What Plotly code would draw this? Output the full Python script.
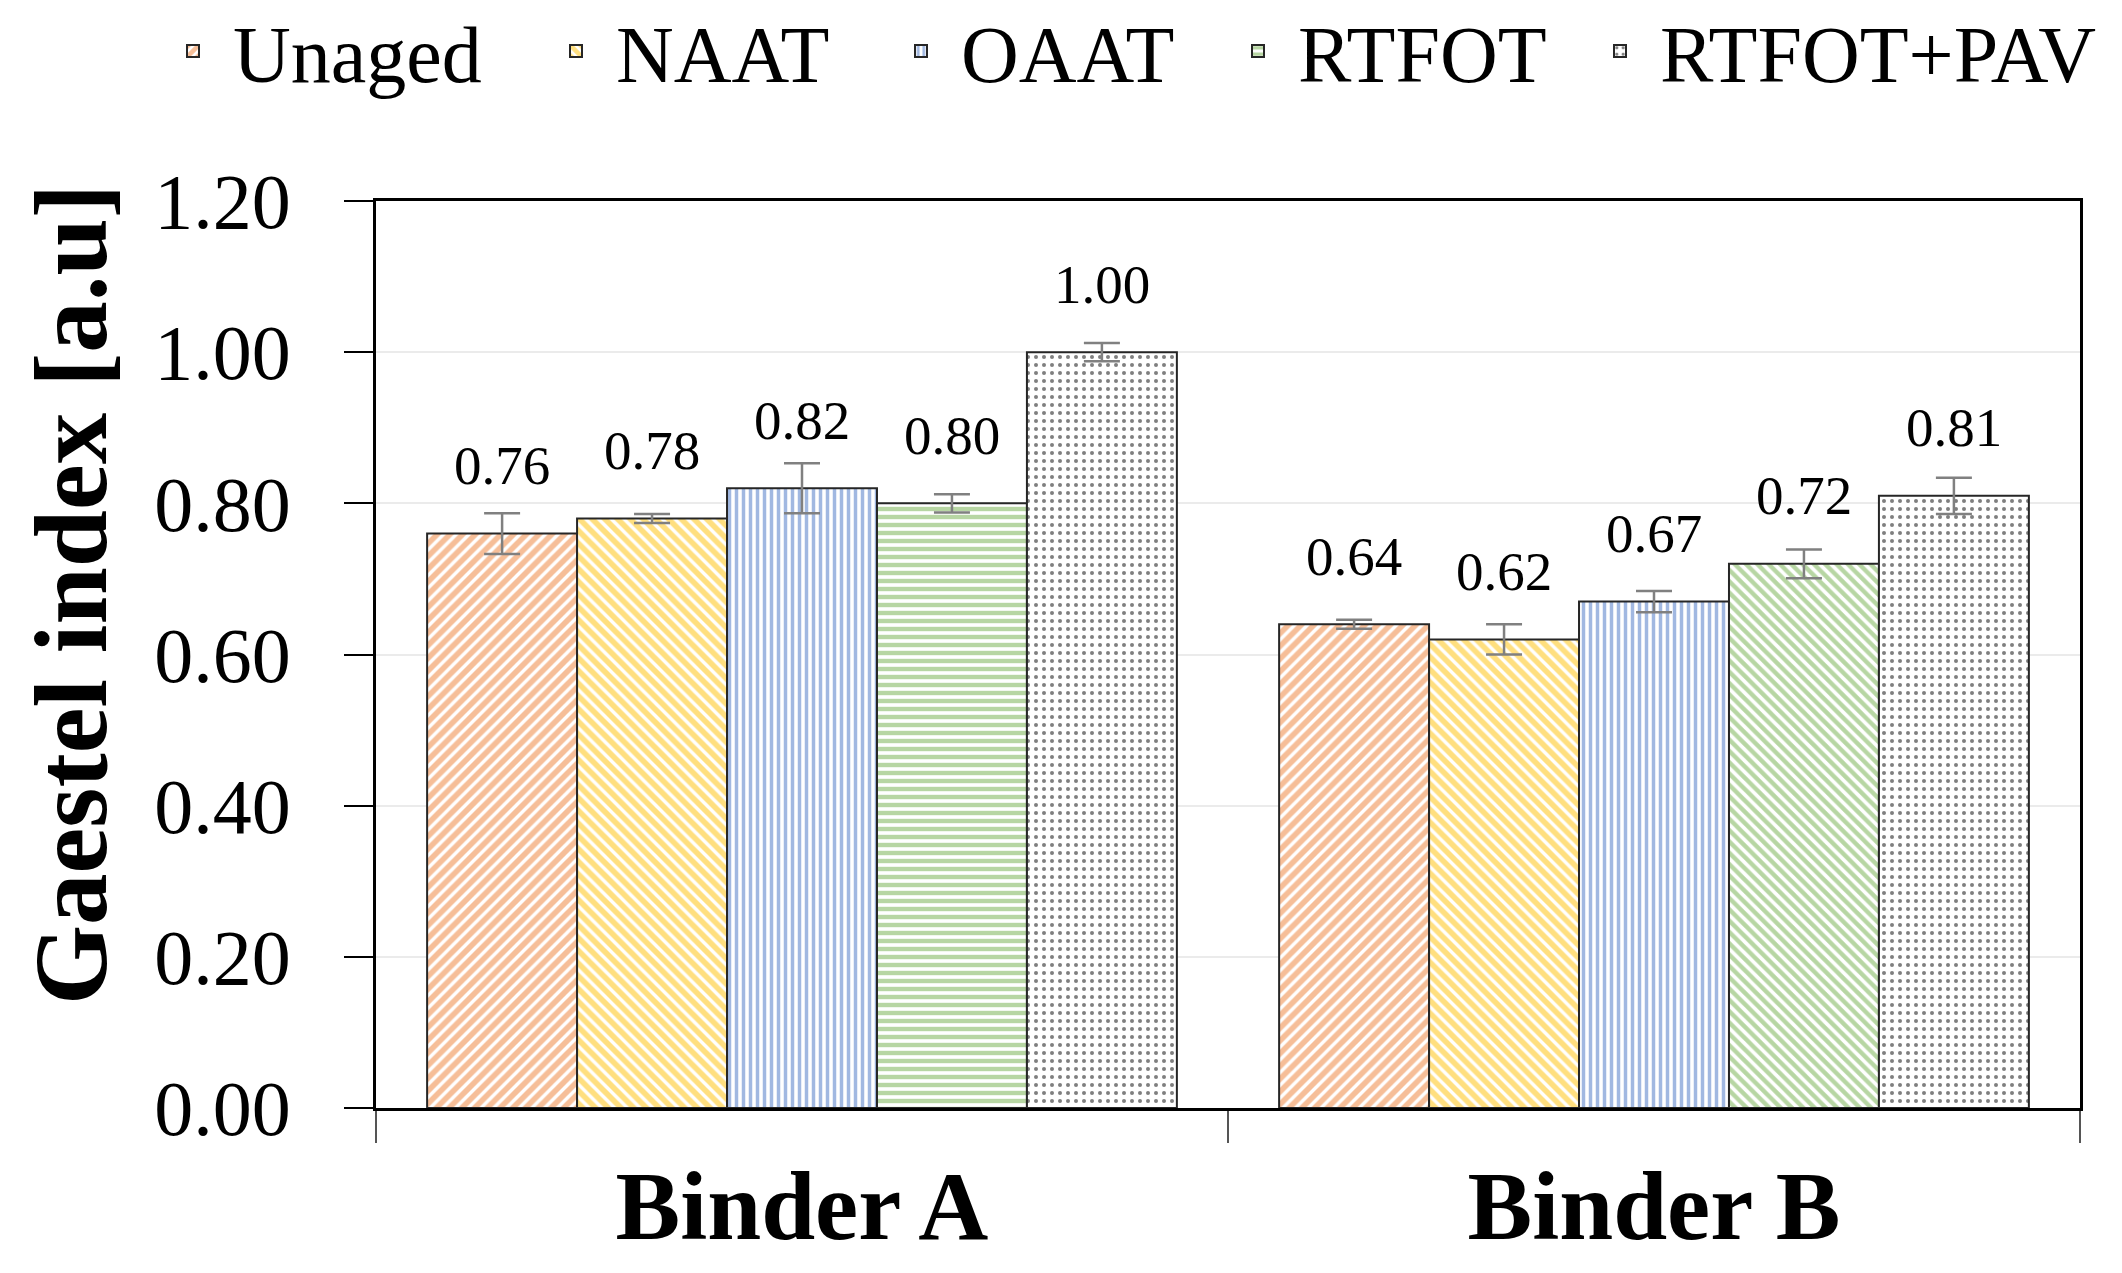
import plotly.graph_objects as go

categories = ["Binder A", "Binder B"]
series = ["Unaged", "NAAT", "OAAT", "RTFOT", "RTFOT+PAV"]
unaged = [0.76, 0.64]
naat = [0.78, 0.62]
oaat = [0.82, 0.67]
rtfot = [0.80, 0.72]
rtfot_pav = [1.00, 0.81]
err_unaged = [0.027, 0.006]
err_naat = [0.006, 0.020]
err_oaat = [0.033, 0.014]
err_rtfot = [0.012, 0.019]
err_rtfot_pav = [0.012, 0.024]
y_ticks = [0.0, 0.2, 0.4, 0.6, 0.8, 1.0, 1.2]

values = [unaged, naat, oaat, rtfot, rtfot_pav]
errors = [err_unaged, err_naat, err_oaat, err_rtfot, err_rtfot_pav]
colors = ["#ED7D31", "#FFC000", "#4472C4", "#70AD47", "#000000"]
shapes = ["/", "\\", "|", ["-", "\\"], "."]
sizes = [9, 9, 7, 8, 8]
solidities = [0.62, 0.62, 0.5, 0.55, 0.2]
legend_widths = [298, 260, 252, 277, None]

FONT = "Liberation Serif"
W, H = 2122, 1273
ML, MR, MT, MB = 368, 50, 193, 173
BARGAP = 0.12
plot_w = W - ML - MR
plot_h = H - MT - MB

fig = go.Figure()
for name, v, e, c, s, sz, so, lw in zip(series, values, errors, colors, shapes, sizes, solidities, legend_widths):
    fig.add_trace(go.Bar(
        name=name, x=categories, y=v, legendwidth=lw,
        marker=dict(color="white", line=dict(color="#262626", width=2),
                    pattern=dict(shape=s, fgcolor=c, bgcolor="white", size=sz, solidity=so)),
        error_y=dict(type="data", array=e, visible=True, color="#808080", thickness=2.5, width=18),
    ))

# data labels above bars
bar_px = plot_w / len(categories) * (1 - BARGAP) / len(series)
for i, v in enumerate(values):
    for cat, val in zip(categories, v):
        fig.add_annotation(x=cat, y=val, xref="x", yref="y", text=f"{val:.2f}",
                           showarrow=False, xshift=(i - (len(series) - 1) / 2) * bar_px,
                           yshift=68, font=dict(family=FONT, size=55, color="black"),
                           xanchor="center", yanchor="middle")

fig.add_annotation(text="Gaestel index [a.u]", xref="paper", yref="paper",
                   x=(63 - ML) / plot_w, y=(H - MB - 587) / plot_h,
                   textangle=-90, showarrow=False, xanchor="center", yanchor="middle",
                   font=dict(family=FONT, size=103, color="black", weight="bold"))

fig.update_layout(
    width=W, height=H,
    margin=dict(l=ML, r=MR, t=MT, b=MB, autoexpand=False),
    plot_bgcolor="white", paper_bgcolor="rgba(0,0,0,0)",
    barmode="group", bargap=BARGAP, bargroupgap=0,
    font=dict(family=FONT, color="black"),
    legend=dict(orientation="h", xref="paper", yref="paper", bgcolor="rgba(0,0,0,0)",
                x=(145 - ML) / plot_w, xanchor="left", y=1 + (MT - 43) / plot_h, yanchor="middle",
                font=dict(family=FONT, size=80, color="black"), itemwidth=70,
                entrywidthmode="pixels", traceorder="normal"),
    xaxis=dict(type="category", showline=True, linecolor="black", linewidth=2.5, mirror=True,
               ticks="outside", tickson="boundaries", ticklen=32, tickcolor="#555555", tickwidth=1.5,
               showgrid=False, ticklabelstandoff=12,
               tickfont=dict(family=FONT, size=97, color="black", weight="bold")),
    yaxis=dict(range=[0, 1.2], tickvals=y_ticks, tickformat=".2f", showline=True, linecolor="black",
               linewidth=2.5, mirror=True, ticks="outside", ticklen=29, tickcolor="black", tickwidth=2,
               showgrid=True, gridcolor="#EBEBEB", gridwidth=1.5, zeroline=False,
               ticklabelstandoff=38,
               tickfont=dict(family=FONT, size=78, color="black")),
)

fig.write_html("out.html")
